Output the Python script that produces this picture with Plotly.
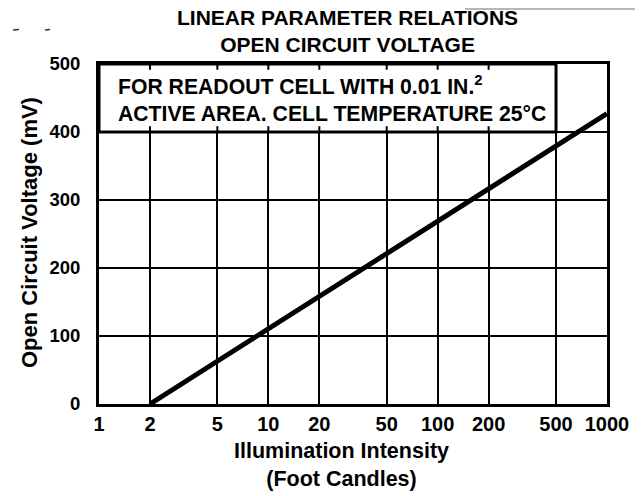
import plotly.graph_objects as go

# ---- data ----
x_ticks = [1, 2, 5, 10, 20, 50, 100, 200, 500, 1000]
x_tick_labels = ["1", "2", "5", "10", "20", "50", "100", "200", "500", "1000"]
y_ticks = [0, 100, 200, 300, 400, 500]
illumination = [2, 1000]          # foot candles
voltage = [0, 427]                # mV

FONT = "Liberation Sans, Arial, sans-serif"
OFF = 8                            # page body margin of the html
SW, SH = 643, 496                  # screen size
W, H = SW - OFF, SH - OFF          # figure size
# plot area in screen pixels
PL, PR, PT, PB = 99, 607, 64, 404
L, R, T, B = PL - OFF, SW - PR, PT - OFF, SH - PB
PW, PH = PR - PL, PB - PT


def px(xs):
    return (xs - PL) / PW


def py(ys):
    return (PB - ys) / PH


fig = go.Figure()
fig.add_trace(go.Scatter(
    x=illumination, y=voltage, mode="lines",
    line=dict(color="black", width=5), showlegend=False, hoverinfo="skip"))

shapes = []
# white note box covering top-left grid cells
shapes.append(dict(type="rect", xref="x", yref="y", x0=1, x1=500, y0=400, y1=500,
                   fillcolor="white", line=dict(color="black", width=3), layer="above"))
# small tick marks along the box edges
tl = 8.5
for v in x_ticks:
    if 1 < v < 500:
        shapes.append(dict(type="line", xref="x", yref="y", x0=v, x1=v, y0=500, y1=500 - tl,
                           line=dict(color="black", width=2), layer="above"))
        shapes.append(dict(type="line", xref="x", yref="y", x0=v, x1=v, y0=400, y1=400 + tl,
                           line=dict(color="black", width=2), layer="above"))
# scan frame artifact top right (as far up as the figure reaches)
shapes.append(dict(type="path", xref="paper", yref="paper",
                   path=f"M {px(466)} {py(7)} L {px(466)} {py(9)} L {px(650)} {py(9)}",
                   line=dict(color="#a0a0a0", width=1.5)))
# small scan specks top left
for (a, b) in [(13, 19), (45, 50)]:
    shapes.append(dict(type="line", xref="paper", yref="paper",
                       x0=px(a), x1=px(b), y0=py(30), y1=py(29.5),
                       line=dict(color="#333333", width=1.5)))

annotations = [
    dict(text="LINEAR PARAMETER RELATIONS<br>OPEN CIRCUIT VOLTAGE",
         xref="paper", yref="paper", x=px(347), y=py(31), xanchor="center", yanchor="middle",
         showarrow=False, font=dict(family=FONT, size=21, color="black", weight="bold")),
    dict(text="FOR READOUT CELL WITH 0.01 IN.<sup>2</sup><br>ACTIVE AREA. CELL TEMPERATURE 25°C",
         xref="paper", yref="paper", x=px(116), y=py(99), xanchor="left", yanchor="middle",
         align="left", showarrow=False,
         font=dict(family=FONT, size=21.2, color="black", weight="bold")),
    dict(text="Illumination Intensity<br>(Foot Candles)",
         xref="paper", yref="paper", x=px(341), y=py(465), xanchor="center", yanchor="middle",
         showarrow=False, font=dict(family=FONT, size=21.5, color="black", weight="bold")),
    dict(text="Open Circuit Voltage (mV)",
         xref="paper", yref="paper", x=px(29), y=py(233), xanchor="center", yanchor="middle",
         textangle=-90, showarrow=False,
         font=dict(family=FONT, size=22, color="black", weight="bold")),
]

fig.update_layout(
    width=W, height=H, margin=dict(l=L, r=R, t=T, b=B),
    paper_bgcolor="white", plot_bgcolor="white",
    shapes=shapes, annotations=annotations, showlegend=False,
    font=dict(family=FONT, color="black"),
)
fig.update_xaxes(
    type="log", range=[0, 3], tickvals=x_ticks, ticktext=x_tick_labels,
    showgrid=True, gridcolor="black", gridwidth=2,
    showline=True, linecolor="black", linewidth=3, mirror=True,
    ticks="", ticklabelstandoff=0, zeroline=False,
    tickfont=dict(family=FONT, size=20, color="black", weight="bold"))
fig.update_yaxes(
    range=[0, 500], tickvals=y_ticks,
    showgrid=True, gridcolor="black", gridwidth=2,
    showline=True, linecolor="black", linewidth=3, mirror=True,
    ticks="", ticklabelstandoff=12, zeroline=False,
    tickfont=dict(family=FONT, size=18.5, color="black", weight="bold"))

fig.write_html("out.html")
